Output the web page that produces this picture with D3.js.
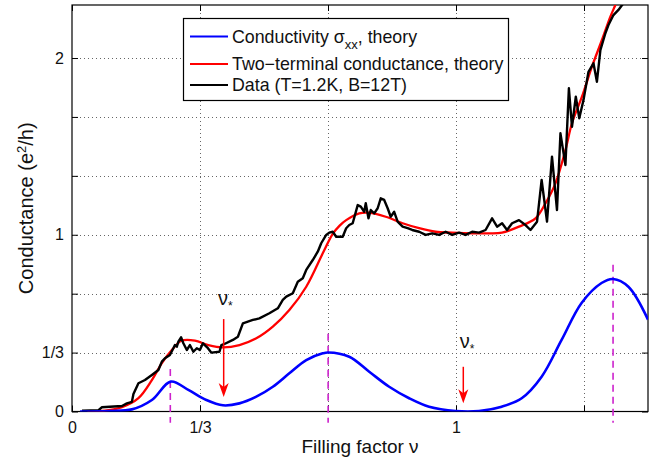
<!DOCTYPE html>
<html>
<head>
<meta charset="utf-8">
<script src="https://cdn.jsdelivr.net/npm/d3@7"></script>
<style>
  body { margin: 0; background: #fff; }
  svg { display: block; }
  text { font-family: "Liberation Sans", Arial, sans-serif; fill: #111; }
</style>
</head>
<body>
<script>
// conductivity sigma_xx, theory (blue)
const sigmaNu = [0.021, 0.099, 0.156, 0.208, 0.257, 0.303, 0.350, 0.393, 0.436, 0.480, 0.523, 0.566, 0.610, 0.653, 0.667,
                 0.722, 0.774, 0.826, 0.878, 0.930, 0.999, 1.060, 1.119, 1.171, 1.223, 1.275, 1.327, 1.379, 1.409, 1.449, 1.500];
const sigmaG  = [0.000, 0.003, 0.012, 0.065, 0.169, 0.122, 0.065, 0.035, 0.046, 0.084, 0.140, 0.216, 0.291, 0.329, 0.334,
                 0.310, 0.225, 0.140, 0.075, 0.027, 0.003, 0.003, 0.027, 0.075, 0.197, 0.405, 0.614, 0.727, 0.750, 0.706, 0.520];

// two-terminal conductance, theory (red)
const twoNu = [0.040, 0.086, 0.130, 0.173, 0.208, 0.234, 0.260, 0.285, 0.320, 0.355, 0.393, 0.436, 0.480, 0.523, 0.566,
               0.610, 0.653, 0.679, 0.697, 0.714, 0.748, 0.774, 0.817, 0.861, 0.904, 0.947, 0.990, 1.042, 1.086, 1.120, 1.164,
               1.207, 1.233, 1.259, 1.285, 1.302, 1.328, 1.354, 1.380, 1.402, 1.415, 1.436];
const twoG  = [0.000, 0.005, 0.025, 0.076, 0.178, 0.274, 0.348, 0.400, 0.401, 0.376, 0.363, 0.376, 0.414, 0.480, 0.574,
               0.706, 0.895, 1.005, 1.052, 1.083, 1.121, 1.125, 1.102, 1.065, 1.037, 1.017, 1.012, 1.008, 1.008, 1.012, 1.046,
               1.093, 1.178, 1.291, 1.479, 1.631, 1.781, 1.951, 2.102, 2.234, 2.300, 2.410];

// measured data, T=1.2K, B=12T (black)
const dataNu = [0.026, 0.069, 0.078, 0.130, 0.143, 0.156, 0.160, 0.173, 0.190, 0.208, 0.225, 0.234, 0.242, 0.255, 0.264,
                0.268, 0.273, 0.277, 0.284, 0.290, 0.299, 0.307, 0.316, 0.325, 0.333, 0.341, 0.354, 0.363, 0.384, 0.389,
                0.397, 0.419, 0.432, 0.445, 0.471, 0.488, 0.514, 0.536, 0.549, 0.558, 0.575, 0.588, 0.601, 0.610, 0.627,
                0.640, 0.649, 0.662, 0.670, 0.679, 0.688, 0.705, 0.714, 0.722, 0.731, 0.744, 0.752, 0.761, 0.765, 0.772,
                0.778, 0.787, 0.796, 0.804, 0.813, 0.822, 0.830, 0.839, 0.848, 0.861, 0.874, 0.886, 0.904, 0.921, 0.938,
                0.956, 0.973, 0.990, 1.008, 1.025, 1.042, 1.060, 1.077, 1.094, 1.107, 1.120, 1.133, 1.146, 1.164, 1.181,
                1.194, 1.211, 1.223, 1.237, 1.250, 1.263, 1.272, 1.285, 1.294, 1.302, 1.312, 1.321, 1.332, 1.345, 1.358,
                1.367, 1.376, 1.389, 1.397, 1.410, 1.423, 1.436];
const dataG  = [0.005, 0.008, 0.024, 0.031, 0.046, 0.055, 0.099, 0.160, 0.178, 0.207, 0.235, 0.282, 0.301, 0.320, 0.358,
                0.376, 0.367, 0.395, 0.420, 0.386, 0.348, 0.376, 0.338, 0.358, 0.348, 0.386, 0.358, 0.333, 0.338, 0.376,
                0.382, 0.405, 0.423, 0.499, 0.518, 0.527, 0.556, 0.584, 0.631, 0.650, 0.669, 0.734, 0.754, 0.801, 0.857,
                0.904, 0.952, 0.999, 1.012, 1.017, 0.989, 0.989, 1.037, 1.055, 1.065, 1.168, 1.159, 1.130, 1.178, 1.093,
                1.140, 1.121, 1.150, 1.206, 1.197, 1.150, 1.102, 1.130, 1.074, 1.046, 1.037, 1.027, 1.017, 0.999, 1.008,
                0.999, 1.017, 0.999, 1.012, 0.999, 1.017, 1.012, 1.027, 1.093, 1.046, 1.065, 1.027, 1.065, 1.083, 1.055,
                1.027, 1.074, 1.310, 1.074, 1.442, 1.140, 1.574, 1.395, 1.829, 1.611, 1.781, 1.659, 1.762, 1.922, 1.970,
                1.866, 2.045, 2.140, 2.187, 2.243, 2.272, 2.310];

// sigma_xx peak markers (magenta dashed)
const peakNu  = [0.256, 0.667, 1.409];
const peakTop = [0.24, 0.44, 0.83];
const peakBottom = -0.063;

// nu_* arrows
const arrowNu  = [0.395, 1.019];
const arrowTop = [0.523, 0.253];
const arrowTip = [0.082, 0.046];
const arrowLabelNu = [0.380, 1.010];
const arrowLabelG  = [0.60, 0.36];

const xTicks = [0, 1/3, 2/3, 1, 4/3];
const xTickLabels = ["0", "1/3", "", "1", ""];
const yTicks = [0, 1/3, 2/3, 1, 4/3, 5/3, 2];
const yTickLabels = ["0", "1/3", "", "1", "", "", "2"];

const legendNames = ["Conductivity σ", "Two\u2212terminal conductance, theory", "Data (T=1.2K, B=12T)"];
const legendColors = ["#0000ff", "#ff0000", "#000000"];

const WIDTH = 656, HEIGHT = 461;
const LEFT = 72, RIGHT = 648, TOP = 5, BOTTOM = 411.5;

const svg = d3.select("body").append("svg")
  .attr("width", WIDTH)
  .attr("height", HEIGHT);

const x = d3.scaleLinear().domain([0, 1.5]).range([LEFT, RIGHT]);
const y = d3.scaleLinear().domain([0, 2.3]).range([BOTTOM, TOP]);

svg.append("defs").append("clipPath").attr("id", "plot")
  .append("rect")
  .attr("x", LEFT).attr("y", TOP)
  .attr("width", RIGHT - LEFT).attr("height", BOTTOM - TOP);

// grid
const grid = svg.append("g").attr("stroke", "#666").attr("stroke-width", 1).attr("stroke-dasharray", "1,3");
grid.selectAll(".vg").data(xTicks.slice(1)).enter().append("line")
  .attr("x1", d => Math.round(x(d)) + 0.5).attr("x2", d => Math.round(x(d)) + 0.5)
  .attr("y1", TOP).attr("y2", BOTTOM);
grid.selectAll(".hg").data(yTicks.slice(1)).enter().append("line")
  .attr("x1", LEFT).attr("x2", RIGHT)
  .attr("y1", d => Math.round(y(d)) + 0.5).attr("y2", d => Math.round(y(d)) + 0.5);

// axes with inward ticks
svg.append("g")
  .attr("transform", "translate(0," + BOTTOM + ")")
  .call(d3.axisBottom(x).tickValues(xTicks).tickFormat((d, i) => xTickLabels[i])
    .tickSizeInner(-6).tickSizeOuter(0).tickPadding(10))
  .call(g => g.selectAll("text").attr("font-size", 16).attr("font-family", "Liberation Sans, Arial, sans-serif").attr("fill", "#111"));
svg.append("g")
  .attr("transform", "translate(0," + TOP + ")")
  .call(d3.axisTop(x).tickValues(xTicks).tickFormat("").tickSizeInner(-6).tickSizeOuter(0));
svg.append("g")
  .attr("transform", "translate(" + LEFT + ",0)")
  .call(d3.axisLeft(y).tickValues(yTicks).tickFormat((d, i) => yTickLabels[i])
    .tickSizeInner(-6).tickSizeOuter(0).tickPadding(8))
  .call(g => g.selectAll("text").attr("font-size", 16).attr("font-family", "Liberation Sans, Arial, sans-serif").attr("fill", "#111"));
svg.append("g")
  .attr("transform", "translate(" + RIGHT + ",0)")
  .call(d3.axisRight(y).tickValues(yTicks).tickFormat("").tickSizeInner(-6).tickSizeOuter(0));
svg.selectAll(".domain").remove();

svg.append("rect")
  .attr("x", LEFT).attr("y", TOP)
  .attr("width", RIGHT - LEFT).attr("height", BOTTOM - TOP)
  .attr("fill", "none").attr("stroke", "#000").attr("stroke-width", 1.2);

// dashed peak markers
svg.selectAll(".peak").data(peakNu).enter().append("line")
  .attr("x1", d => x(d)).attr("x2", d => x(d))
  .attr("y1", (d, i) => y(peakTop[i])).attr("y2", y(peakBottom))
  .attr("stroke", "#cc22cc").attr("stroke-width", 1.6).attr("stroke-dasharray", "7,5");

const curves = svg.append("g").attr("clip-path", "url(#plot)");
const smooth = d3.line().x(d => x(d[0])).y(d => y(d[1])).curve(d3.curveCatmullRom);
const rough = d3.line().x(d => x(d[0])).y(d => y(d[1]));

curves.append("path")
  .datum(twoNu.map((v, i) => [v, twoG[i]]))
  .attr("d", smooth).attr("fill", "none").attr("stroke", "#ff0000").attr("stroke-width", 2.3);
curves.append("path")
  .datum(dataNu.map((v, i) => [v, dataG[i]]))
  .attr("d", rough).attr("fill", "none").attr("stroke", "#000").attr("stroke-width", 2.4)
  .attr("stroke-linejoin", "round");
curves.append("path")
  .datum(sigmaNu.map((v, i) => [v, sigmaG[i]]))
  .attr("d", smooth).attr("fill", "none").attr("stroke", "#0000ff").attr("stroke-width", 2.6);

// arrows
arrowNu.forEach((nu, i) => {
  const ax = x(nu), top = y(arrowTop[i]), tip = y(arrowTip[i]);
  svg.append("line")
    .attr("x1", ax).attr("x2", ax).attr("y1", top).attr("y2", tip - 6)
    .attr("stroke", "#ff0000").attr("stroke-width", 1.5);
  svg.append("path")
    .attr("d", `M${ax},${tip} L${ax - 5},${tip - 14} L${ax},${tip - 10} L${ax + 5},${tip - 14} Z`)
    .attr("fill", "#ff0000");
  const lab = svg.append("text")
    .attr("x", x(arrowLabelNu[i])).attr("y", y(arrowLabelG[i]))
    .attr("font-size", 20).attr("fill", "#222");
  lab.append("tspan").text("ν");
  lab.append("tspan").attr("dy", 5).attr("font-size", 12).text("*");
});

// axis titles
svg.append("text")
  .attr("x", (LEFT + RIGHT) / 2).attr("y", 453)
  .attr("text-anchor", "middle").attr("font-size", 19)
  .text("Filling factor ν");
const yl = svg.append("text")
  .attr("transform", "translate(33," + ((TOP + BOTTOM) / 2) + ") rotate(-90)")
  .attr("text-anchor", "middle").attr("font-size", 20);
yl.append("tspan").text("Conductance (e");
yl.append("tspan").attr("dy", -7).attr("font-size", 13).text("2");
yl.append("tspan").attr("dy", 7).text("/h)");

// legend
const leg = svg.append("g");
leg.append("rect")
  .attr("x", 183.5).attr("y", 18.5).attr("width", 325).attr("height", 82)
  .attr("fill", "#fff").attr("stroke", "#000").attr("stroke-width", 1.2);
const rowY = [36.5, 64, 85];
legendNames.forEach((name, i) => {
  leg.append("line")
    .attr("x1", 190).attr("x2", 228).attr("y1", rowY[i]).attr("y2", rowY[i])
    .attr("stroke", legendColors[i]).attr("stroke-width", 2.2);
  const t = leg.append("text").attr("x", 232).attr("y", rowY[i] + 6).attr("font-size", 17.8);
  t.append("tspan").text(name);
  if (i === 0) {
    t.append("tspan").attr("dy", 6).attr("font-size", 13).text("xx");
    t.append("tspan").attr("dy", -6).text(", theory");
  }
});
</script>
</body>
</html>
